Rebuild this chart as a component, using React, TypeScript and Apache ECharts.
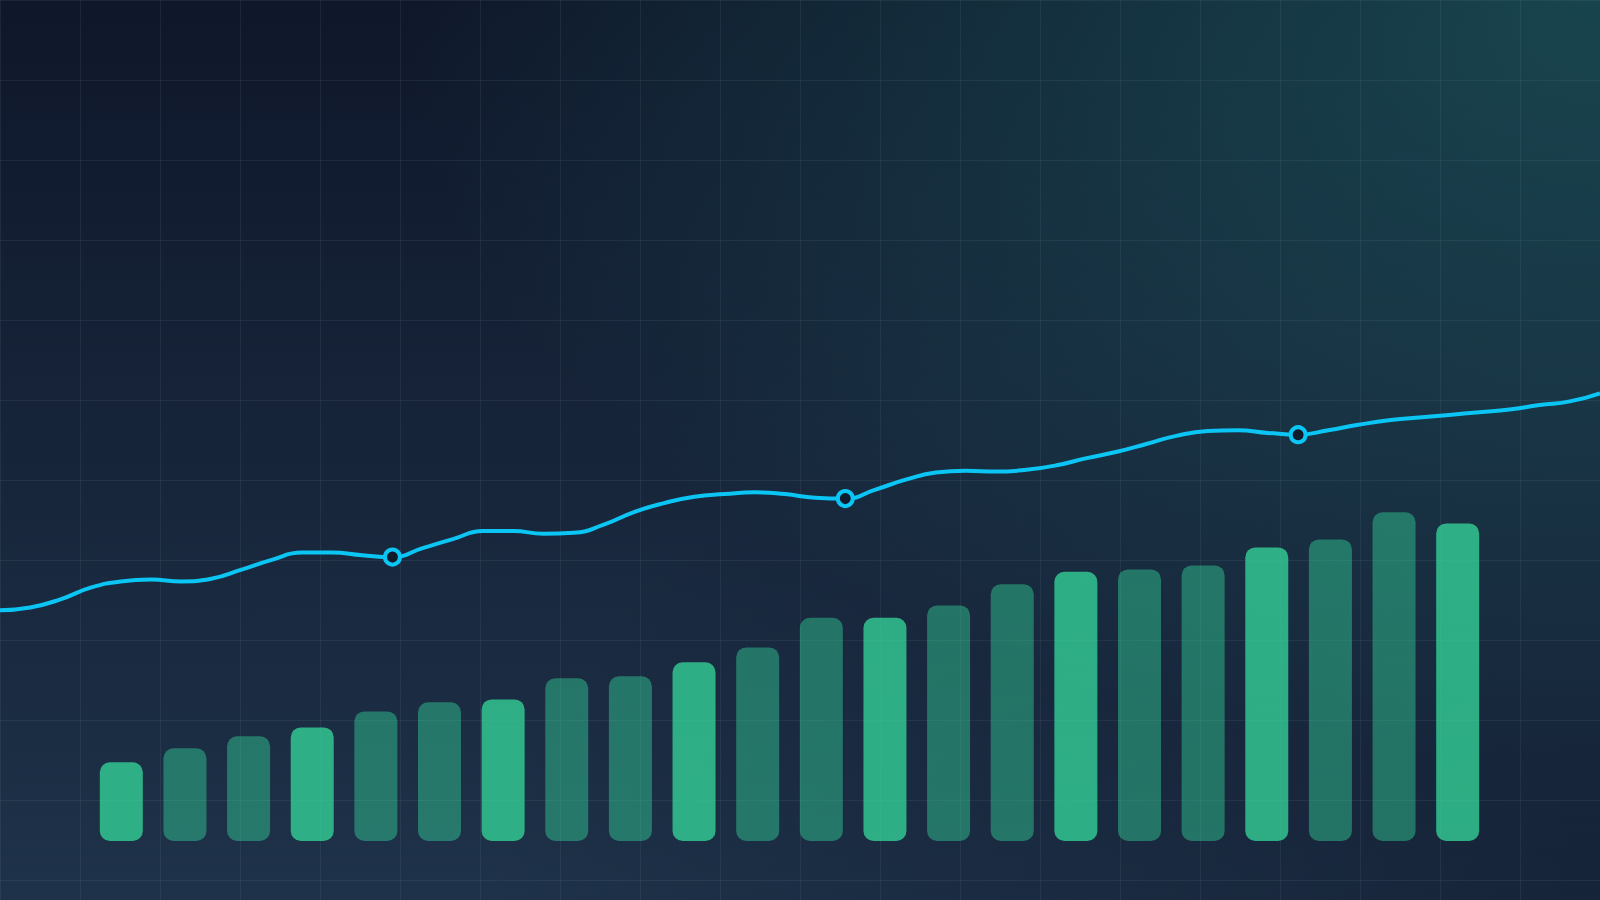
import React, { useEffect, useRef } from 'react';
import * as echarts from 'echarts';

// Bar series (22 periods)
const barCategories = [
  'B01', 'B02', 'B03', 'B04', 'B05', 'B06', 'B07', 'B08', 'B09', 'B10', 'B11',
  'B12', 'B13', 'B14', 'B15', 'B16', 'B17', 'B18', 'B19', 'B20', 'B21', 'B22',
];
const barValues = [
  19.7, 23.2, 26.2, 28.4, 32.4, 34.7, 35.4, 40.7, 41.2, 44.7, 48.4,
  55.8, 55.8, 58.9, 64.2, 67.3, 67.9, 68.9, 73.4, 75.4, 82.2, 79.4,
];
const barHighlight = [
  true, false, false, true, false, false, true, false, false, true, false,
  false, true, false, false, true, false, false, true, false, false, true,
];

// Line series (54 points)
const lineCategories = Array.from({ length: 54 }, (_, i) => `P${i + 1}`);
const lineValues = [
  32.2, 32.5, 33.4, 34.7, 35.4, 35.6, 35.4, 35.7, 36.7, 37.8, 38.6, 38.6, 38.3, 38.1,
  39.1, 40.1, 41.0, 41.0, 40.7, 40.8, 41.7, 43.1, 44.1, 44.8, 45.1, 45.3, 45.1, 44.7,
  44.6, 45.6, 46.7, 47.5, 47.7, 47.6, 47.8, 48.3, 49.1, 49.8, 50.7, 51.6, 52.1, 52.2,
  51.9, 51.7, 52.2, 52.8, 53.3, 53.6, 53.9, 54.2, 54.5, 55.0, 55.4, 56.3,
];
const markerIndices = [13, 28, 43];

const LINE_COLOR = '#0bc6f4';
const BAR_LIGHT = 'rgba(52,211,153,0.78)';
const BAR_DARK = 'rgba(52,211,153,0.45)';
const GRID_LINE = 'rgba(148,163,184,0.1)';

export default function App() {
  const ref = useRef<HTMLDivElement>(null);

  useEffect(() => {
    document.body.style.margin = '0';
    if (!ref.current) return;
    const chart = echarts.init(ref.current, undefined, { renderer: 'svg' });

    const option: any = {
      animation: false,
      backgroundColor: 'transparent',
      grid: [
        { left: 0, right: 0, top: 0, bottom: 0 },
        { left: 89.5, right: 110.5, top: 441, bottom: 59 },
        { left: 0, right: 0, top: 0, bottom: 0 },
      ],
      xAxis: [
        {
          type: 'value', gridIndex: 0, min: 0, max: 1600, interval: 80,
          axisLine: { show: false }, axisTick: { show: false }, axisLabel: { show: false },
          splitLine: { show: true, lineStyle: { color: GRID_LINE, width: 1 } },
        },
        {
          type: 'category', gridIndex: 1, data: barCategories, boundaryGap: true,
          axisLine: { show: false }, axisTick: { show: false }, axisLabel: { show: false },
          splitLine: { show: false },
        },
        {
          type: 'category', gridIndex: 2, data: lineCategories, boundaryGap: false,
          axisLine: { show: false }, axisTick: { show: false }, axisLabel: { show: false },
          splitLine: { show: false },
        },
      ],
      yAxis: [
        {
          type: 'value', gridIndex: 0, min: 0, max: 900, interval: 80, inverse: true,
          axisLine: { show: false }, axisTick: { show: false }, axisLabel: { show: false },
          splitLine: { show: true, lineStyle: { color: GRID_LINE, width: 1 } },
        },
        {
          type: 'value', gridIndex: 1, min: 0, max: 100,
          axisLine: { show: false }, axisTick: { show: false }, axisLabel: { show: false },
          splitLine: { show: false },
        },
        {
          type: 'value', gridIndex: 2, min: 0, max: 100,
          axisLine: { show: false }, axisTick: { show: false }, axisLabel: { show: false },
          splitLine: { show: false },
        },
      ],
      series: [
        {
          type: 'bar',
          xAxisIndex: 1,
          yAxisIndex: 1,
          barWidth: 43,
          data: barValues.map((v, i) => ({
            value: v,
            itemStyle: { color: barHighlight[i] ? BAR_LIGHT : BAR_DARK, borderRadius: 10 },
          })),
          z: 2,
        },
        {
          type: 'line',
          xAxisIndex: 2,
          yAxisIndex: 2,
          smooth: 0.5,
          showAllSymbol: true,
          symbol: 'circle',
          symbolSize: 15,
          lineStyle: { color: LINE_COLOR, width: 4 },
          itemStyle: { color: '#0f1a2c', borderColor: LINE_COLOR, borderWidth: 4 },
          data: lineValues.map((v, i) =>
            markerIndices.includes(i) ? { value: v } : { value: v, symbol: 'none' }
          ),
          z: 3,
        },
      ],
    };

    chart.setOption(option);
    return () => chart.dispose();
  }, []);

  return (
    <div
      ref={ref}
      style={{
        position: 'fixed',
        left: 0,
        top: 0,
        width: 1600,
        height: 900,
        background:
          'radial-gradient(ellipse 75% 85% at 100% 0%, rgba(42,160,150,0.33), rgba(42,160,150,0) 100%),' +
          'radial-gradient(ellipse 70% 70% at 100% 100%, rgba(15,23,42,0.5), rgba(15,23,42,0) 100%),' +
          'linear-gradient(180deg, #0f172a 0%, #1e3249 100%)',
      }}
    />
  );
}
